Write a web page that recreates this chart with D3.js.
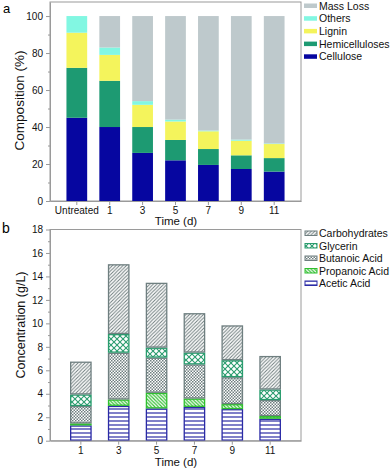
<!DOCTYPE html>
<html><head><meta charset="utf-8">
<script src="https://cdn.jsdelivr.net/npm/d3@7"></script>
<style>
body{margin:0;background:#fff;}
svg{display:block;font-family:"Liberation Sans",Arial,sans-serif;}
</style></head>
<body>
<svg id="chart" width="392" height="468"></svg>
<script>
// Panel a data
const catsA = ["Untreated","1","3","5","7","9","11"];
const seriesA = ["Cellulose","Hemicelluloses","Lignin","Others","Mass Loss"];
const cellulose      = [45, 40, 26, 22, 19.5, 17.3, 15.9];
const hemicelluloses = [27, 25, 14, 11, 8.6, 7.4, 7.3];
const lignin         = [19, 14, 12, 10, 9.6, 7.9, 7.6];
const others         = [9, 4, 2, 1, 0.4, 0.6, 0.3];
const massLoss       = [0, 17, 46, 56, 61.9, 66.8, 68.9];
const ticksA = [0,20,40,60,80,100];

// Panel b data
const catsB = ["1","3","5","7","9","11"];
const seriesB = ["Acetic Acid","Propanoic Acid","Butanoic Acid","Glycerin","Carbohydrates"];
const acetic     = [1.30, 2.97, 2.75, 2.88, 2.69, 1.87];
const propanoic  = [0.17, 0.54, 1.33, 0.71, 0.43, 0.23];
const butanoic   = [1.48, 3.99, 3.00, 2.91, 2.29, 1.36];
const glycerin   = [0.99, 1.59, 0.85, 1.01, 1.45, 0.90];
const carbo      = [2.80, 5.95, 5.53, 3.36, 2.97, 2.86];
const ticksB = [0,2,4,6,8,10,12,14,16,18];

const svg = d3.select("#chart");
const frameCol = "#9a9a9a";
const fs = 10;
const fsLeg = 10.5;

// patterns
const defs = svg.append("defs");
function pat(id, size, draw){
  const p = defs.append("pattern").attr("id",id).attr("patternUnits","userSpaceOnUse")
    .attr("width",size).attr("height",size);
  p.append("rect").attr("width",size).attr("height",size).attr("fill","#fff");
  draw(p);
}
pat("pAcetic",4,p=>p.append("line").attr("x1",0).attr("x2",4).attr("y1",1).attr("y2",1).attr("stroke","#2b2ba6").attr("stroke-width",1.2));
pat("pProp",3.5,p=>{p.append("path").attr("d","M0,0L3.5,3.5M-1,2.5L1,4.5M2.5,-1L4.5,1").attr("stroke","#33c033").attr("stroke-width",1.2);});
pat("pBut",3,p=>{p.append("rect").attr("x",0).attr("y",0).attr("width",1.5).attr("height",1.5).attr("fill","#6f7f80");
  p.append("rect").attr("x",1.5).attr("y",1.5).attr("width",1.5).attr("height",1.5).attr("fill","#6f7f80");});
pat("pGly",6,p=>{p.append("path").attr("d","M0,0L6,6M6,0L0,6").attr("stroke","#2a9c6e").attr("stroke-width",1.1);});
pat("pCarb",3.5,p=>{p.append("path").attr("d","M0,3.5L3.5,0M-1,1L1,-1M2.5,4.5L4.5,2.5").attr("stroke","#6f7d7e").attr("stroke-width",1);});

function styleAxis(g){
  g.selectAll("path.domain").attr("stroke",frameCol);
  g.selectAll(".tick line").attr("stroke",frameCol);
  g.selectAll("text").attr("font-size",fs).attr("fill","#111").attr("font-family","Liberation Sans, Arial, sans-serif");
}

// ---------- Panel a ----------
const xA = d3.scaleBand().domain(catsA).range([50,301]).paddingInner(0.37).paddingOuter(0.5);
const yA = d3.scaleLinear().domain([0,107.6]).range([201,2]);
const colA = {"Cellulose":"#0606a0","Hemicelluloses":"#1d9a72","Lignin":"#f4f45c","Others":"#82f7e2","Mass Loss":"#bec9cc"};
const valsA = {"Cellulose":cellulose,"Hemicelluloses":hemicelluloses,"Lignin":lignin,"Others":others,"Mass Loss":massLoss};
const rowsA = catsA.map((c,i)=>{const r={cat:c}; seriesA.forEach(s=>r[s]=valsA[s][i]); return r;});
const stackA = d3.stack().keys(seriesA)(rowsA);
const gA = svg.append("g");
gA.append("rect").attr("x",50).attr("y",2).attr("width",251).attr("height",199).attr("fill","none").attr("stroke",frameCol);
stackA.forEach(layer=>{
  gA.selectAll(null).data(layer).enter().append("rect")
    .attr("x",d=>xA(d.data.cat)).attr("width",xA.bandwidth())
    .attr("y",d=>yA(d[1])).attr("height",d=>yA(d[0])-yA(d[1]))
    .attr("fill",colA[layer.key]);
});
const axA = gA.append("g").attr("transform","translate(50,0)")
  .call(d3.axisLeft(yA).tickValues(ticksA).tickSize(4).tickPadding(3).tickSizeOuter(0));
styleAxis(axA);
const axAm = gA.append("g").attr("transform","translate(50,0)")
  .call(d3.axisLeft(yA).tickValues(d3.range(10,107,20)).tickSize(2).tickFormat("").tickSizeOuter(0));
styleAxis(axAm); axAm.select("path.domain").remove();
const axAx = gA.append("g").attr("transform","translate(0,201)")
  .call(d3.axisBottom(xA).tickSize(4).tickPadding(2).tickSizeOuter(0));
styleAxis(axAx);
gA.append("text").attr("x",176).attr("y",225).attr("text-anchor","middle").attr("font-size",11.5).attr("fill","#111").text("Time (d)");
gA.append("text").attr("transform","translate(24,100.5) rotate(-90)").attr("text-anchor","middle").attr("font-size",13.5).attr("fill","#111").text("Composition (%)");
gA.append("text").attr("x",3).attr("y",13).attr("font-size",13).text("a");
// legend a
const legA = seriesA.slice().reverse();
legA.forEach((s,i)=>{
  const y = 5.5 + i*12.7;
  gA.append("rect").attr("x",304).attr("y",y-2).attr("width",13).attr("height",4.5).attr("fill",colA[s]);
  gA.append("text").attr("x",319).attr("y",y+4).attr("font-size",fsLeg).attr("fill","#111").text(s);
});

// ---------- Panel b ----------
const xB = d3.scaleBand().domain(catsB).range([50,301]).paddingInner(0.43).paddingOuter(0.53);
const yB = d3.scaleLinear().domain([0,18]).range([440.7,229.5]);
const fillB = {"Acetic Acid":"url(#pAcetic)","Propanoic Acid":"url(#pProp)","Butanoic Acid":"url(#pBut)","Glycerin":"url(#pGly)","Carbohydrates":"url(#pCarb)"};
const strokeB = {"Acetic Acid":"#2b2ba6","Propanoic Acid":"#2fbf2f","Butanoic Acid":"#6f7f80","Glycerin":"#2a9c6e","Carbohydrates":"#6f7f80"};
const valsB = {"Acetic Acid":acetic,"Propanoic Acid":propanoic,"Butanoic Acid":butanoic,"Glycerin":glycerin,"Carbohydrates":carbo};
const rowsB = catsB.map((c,i)=>{const r={cat:c}; seriesB.forEach(s=>r[s]=valsB[s][i]); return r;});
const stackB = d3.stack().keys(seriesB)(rowsB);
const gB = svg.append("g");
gB.append("rect").attr("x",50).attr("y",229.5).attr("width",251).attr("height",211.2).attr("fill","none").attr("stroke",frameCol);
stackB.forEach(layer=>{
  gB.selectAll(null).data(layer).enter().append("rect")
    .attr("x",d=>xB(d.data.cat)+0.6).attr("width",xB.bandwidth()-1.2)
    .attr("y",d=>yB(d[1])+0.6).attr("height",d=>Math.max(0,yB(d[0])-yB(d[1])-1.2))
    .attr("fill",fillB[layer.key]).attr("stroke",strokeB[layer.key]).attr("stroke-width",1.3);
});
const axB = gB.append("g").attr("transform","translate(50,0)")
  .call(d3.axisLeft(yB).tickValues(ticksB).tickSize(4).tickPadding(3).tickSizeOuter(0));
styleAxis(axB);
const axBm = gB.append("g").attr("transform","translate(50,0)")
  .call(d3.axisLeft(yB).tickValues(d3.range(1,18,2)).tickSize(2).tickFormat("").tickSizeOuter(0));
styleAxis(axBm); axBm.select("path.domain").remove();
const axBx = gB.append("g").attr("transform","translate(0,440.7)")
  .call(d3.axisBottom(xB).tickSize(4).tickPadding(2).tickSizeOuter(0));
styleAxis(axBx);
gB.append("text").attr("x",176).attr("y",466).attr("text-anchor","middle").attr("font-size",11.5).attr("fill","#111").text("Time (d)");
gB.append("text").attr("transform","translate(25,325) rotate(-90)").attr("text-anchor","middle").attr("font-size",12.5).attr("fill","#111").text("Concentration (g/L)");
gB.append("text").attr("x",2).attr("y",233).attr("font-size",14).text("b");
// legend b
const legB = seriesB.slice().reverse();
legB.forEach((s,i)=>{
  const y = 233 + i*12.5;
  gB.append("rect").attr("x",305).attr("y",y-2).attr("width",12).attr("height",4.5)
    .attr("fill",fillB[s]).attr("stroke",strokeB[s]).attr("stroke-width",1);
  gB.append("text").attr("x",319).attr("y",y+4).attr("font-size",fsLeg).attr("fill","#111").text(s);
});
</script>
</body></html>
